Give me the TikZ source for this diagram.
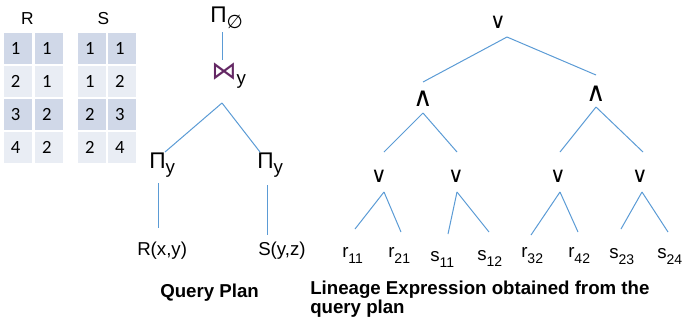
\documentclass[tikz,border=0pt]{standalone}
\usepackage{fontspec}
\setmainfont{Liberation Sans}
\newfontfamily\dejavu{DejaVu Sans}
\newfontfamily\calib{Carlito}
\usetikzlibrary{calc}
\definecolor{linkblue}{HTML}{5B9BD5}
\definecolor{rowdark}{HTML}{D0D8E8}
\definecolor{rowlight}{HTML}{E9EDF4}
\definecolor{joinpurple}{RGB}{100,40,100}
\newcommand{\leafsub}[2]{#1\raisebox{-4.5pt}{\fontsize{10.5}{10.5}\selectfont #2}}
\begin{document}
\begin{tikzpicture}[x=0.75pt,y=-0.75pt,
  edge/.style={draw=linkblue,line width=0.75pt},
  lbl/.style={font=\fontsize{14}{16}\selectfont,inner sep=0,anchor=base west},
  hdr/.style={font=\fontsize{13}{15}\selectfont,inner sep=0},
  pisym/.style={font=\fontsize{17}{17}\selectfont,inner sep=0,anchor=base west},
  orsym/.style={font=\dejavu\fontsize{16}{16}\selectfont,inner sep=0},
  andsym/.style={font=\dejavu\fontsize{20}{20}\selectfont,inner sep=0},
  cell/.style={font=\calib\fontsize{14}{15}\selectfont,inner xsep=6pt,inner ysep=0pt,
    text width=10.5pt,align=left,minimum height=24.75pt,draw=white,line width=1.5pt},
  dark/.style={cell,fill=rowdark},
  light/.style={cell,fill=rowlight},
  title/.style={font=\bfseries\fontsize{14}{12}\selectfont,inner sep=0,anchor=base west,align=left}]
\useasboundingbox (0,0) rectangle (682,330);
% ---------- tables ----------
\node[hdr] (Rh) at (27.5,18.5) {R};
\node[hdr] (Sh) at (103.5,18.5) {S};
\node[dark]  (ra1) at (18,48.5)  {1}; \node[dark]  (rb1) at (49,48.5)  {1};
\node[light] (ra2) at (18,81.5)  {2}; \node[light] (rb2) at (49,81.5)  {1};
\node[dark]  (ra3) at (18,114.5) {3}; \node[dark]  (rb3) at (49,114.5) {2};
\node[light] (ra4) at (18,147.5) {4}; \node[light] (rb4) at (49,147.5) {2};
\node[dark]  (sa1) at (92,48.5)  {1}; \node[dark]  (sb1) at (122,48.5)  {1};
\node[light] (sa2) at (92,81.5)  {1}; \node[light] (sb2) at (122,81.5)  {2};
\node[dark]  (sa3) at (92,114.5) {2}; \node[dark]  (sb3) at (122,114.5) {3};
\node[light] (sa4) at (92,147.5) {2}; \node[light] (sb4) at (122,147.5) {4};
% ---------- query plan ----------
\node[pisym] (P0) at (210,22) {Π{\dejavu\fontsize{14}{14}\selectfont\raisebox{-4.5pt}{∅}}};
\node[lbl] (J) at (211,79) {{\dejavu\fontsize{19}{19}\selectfont\color{joinpurple}⋈}\raisebox{-4pt}{y}};
\node[pisym] (PL) at (149,168) {Π{\fontsize{14}{14}\selectfont\raisebox{-4pt}{y}}};
\node[pisym] (PR) at (257,168) {Π{\fontsize{14}{14}\selectfont\raisebox{-4pt}{y}}};
\node[lbl] (RX) at (137,255) {R(x,y)};
\node[lbl] (SY) at (258,255) {S(y,z)};
\node[title] (QP) at (160,297) {Query Plan};
\draw[edge] ([shift={(12.5,10)}]P0.base west) -- ([shift={(11.5,-19)}]J.base west);
\draw[edge] ([shift={(11,24)}]J.base west) -- ([shift={(16,-16)}]PL.base west);
\draw[edge] ([shift={(11,24)}]J.base west) -- ([shift={(3,-16)}]PR.base west);
\draw[edge] ([shift={(9.5,15)}]PL.base west) -- ([shift={(21.5,-27)}]RX.base west);
\draw[edge] ([shift={(10.5,17)}]PR.base west) -- ([shift={(9.5,-20)}]SY.base west);
% ---------- lineage tree ----------
\node[orsym]  (T)  at (498,22) {∨};
\node[andsym] (A1) at (423,99) {∧};
\node[andsym] (A2) at (596,94) {∧};
\node[orsym]  (O1) at (379,176) {∨};
\node[orsym]  (O2) at (456,176) {∨};
\node[orsym]  (O3) at (558,176) {∨};
\node[orsym]  (O4) at (640,176) {∨};
\node[lbl] (L1) at (342,257) {\leafsub{r}{11}};
\node[lbl] (L2) at (388,257) {\leafsub{r}{21}};
\node[lbl] (L3) at (430,261) {\leafsub{s}{11}};
\node[lbl] (L4) at (477,260) {\leafsub{s}{12}};
\node[lbl] (L5) at (521,257) {\leafsub{r}{32}};
\node[lbl] (L6) at (568,257) {\leafsub{r}{42}};
\node[lbl] (L7) at (609,258) {\leafsub{s}{23}};
\node[lbl] (L8) at (657,258) {\leafsub{s}{24}};
\node[title] (LE) at (310,313) {Lineage Expression obtained from the\\query plan};
\draw[edge] ([shift={(9,15)}]T.center) -- ([shift={(0,-17)}]A1.center);
\draw[edge] ([shift={(9,15)}]T.center) -- ([shift={(0,-19)}]A2.center);
\draw[edge] ([shift={(0,14)}]A1.center) -- ([shift={(5,-24)}]O1.center);
\draw[edge] ([shift={(0,14)}]A1.center) -- ([shift={(1,-24)}]O2.center);
\draw[edge] ([shift={(0,13)}]A2.center) -- ([shift={(2,-24)}]O3.center);
\draw[edge] ([shift={(0,13)}]A2.center) -- ([shift={(3,-24)}]O4.center);
\draw[edge] ([shift={(5,16)}]O1.center) -- ([shift={(13,-28)}]L1.base west);
\draw[edge] ([shift={(5,16)}]O1.center) -- ([shift={(13,-25)}]L2.base west);
\draw[edge] ([shift={(1,16)}]O2.center) -- ([shift={(18,-27)}]L3.base west);
\draw[edge] ([shift={(1,16)}]O2.center) -- ([shift={(12,-28)}]L4.base west);
\draw[edge] ([shift={(2,16)}]O3.center) -- ([shift={(10,-22)}]L5.base west);
\draw[edge] ([shift={(2,16)}]O3.center) -- ([shift={(10,-25)}]L6.base west);
\draw[edge] ([shift={(2,16)}]O4.center) -- ([shift={(12,-29)}]L7.base west);
\draw[edge] ([shift={(2,16)}]O4.center) -- ([shift={(11,-26)}]L8.base west);
\end{tikzpicture}
\end{document}
